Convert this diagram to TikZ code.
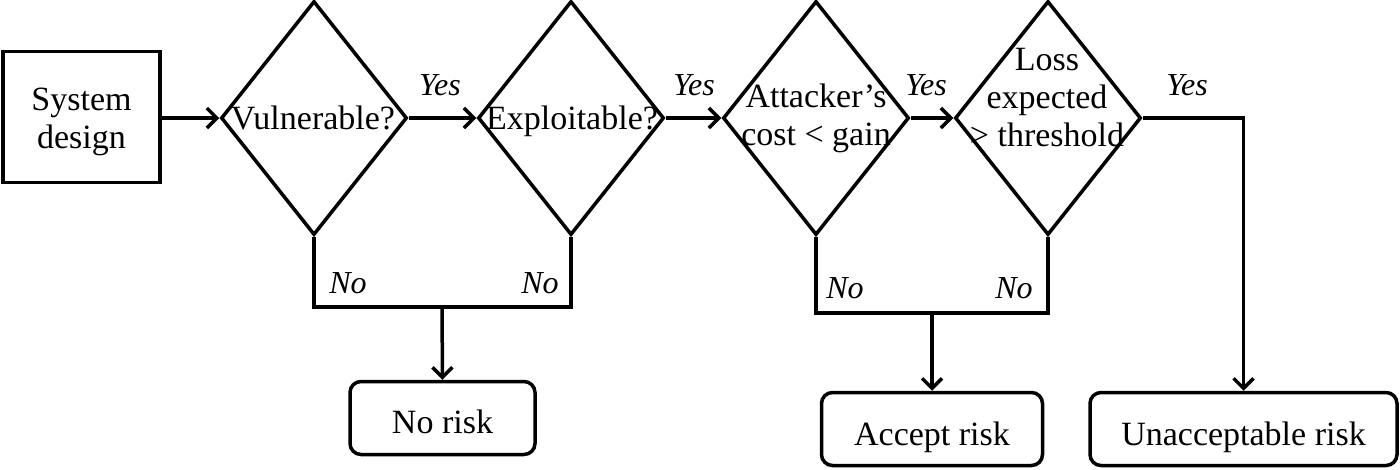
\documentclass[tikz,border=0pt]{standalone}
\usepackage{fontspec}
\setmainfont{Liberation Serif}
\usetikzlibrary{shapes.geometric,arrows.meta}
\begin{document}
\begin{tikzpicture}[x=1pt,y=-1pt,line width=3.5pt,
  txt/.style={font=\fontsize{34}{38}\selectfont,align=center,inner sep=0pt,anchor=base},
  lbl/.style={font=\fontsize{32}{36}\selectfont\itshape,inner sep=0pt,anchor=base},
  dia/.style={draw,diamond,minimum width=186pt,minimum height=234pt,inner sep=0pt},
  sqbox/.style={draw,rectangle,minimum width=157pt,minimum height=131pt,inner sep=0pt},
  rbox/.style={draw,rectangle,rounded corners=11pt,minimum height=73pt,inner sep=0pt},
  arr/.style={-{Straight Barb[length=10pt,width=20pt]}},
  line join=miter]
\useasboundingbox (0,0) rectangle (1400,469);
\node[sqbox] (sys) at (81.5,117) {};
\node[txt] (tsys) at (81.5,148) {System\\design};
\node[dia] (d1) at (314,118) {};
\node[txt] (td1) at (313,129) {Vulnerable?};
\node[dia] (d2) at (571,118) {};
\node[txt] (td2) at (572,129) {Exploitable?};
\node[dia] (d3) at (816,118) {};
\node[txt] (td3) at (816,145) {Attacker's\\cost < gain};
\node[dia] (d4) at (1048,118) {};
\node[txt] (td4) at (1047,146) {Loss\\expected\\> threshold};
\node[rbox,minimum width=185pt] (norisk) at (442.5,418) {};
\node[txt] (tnorisk) at (442.5,433) {No risk};
\node[rbox,minimum width=221pt] (accept) at (932,429) {};
\node[txt] (taccept) at (932,445) {Accept risk};
\node[rbox,minimum width=307pt] (unacc) at (1243.5,429) {};
\node[txt] (tunacc) at (1243.5,445) {Unacceptable risk};
\coordinate (j1) at (442,307);
\coordinate (j2) at (932,313);
\draw[arr] (sys.east |- d1.west) -- (d1.west);
\draw[arr] (d1.east) -- (d2.west);
\draw[arr] (d2.east) -- (d3.west);
\draw[arr] (d3.east) -- (d4.west);
\draw[arr] (d4.east) -| (unacc.north);
\draw (d1.south) |- (j1) -| (d2.south);
\draw[arr] (j1) -- (norisk.north);
\draw (d3.south) |- (j2) -| (d4.south);
\draw[arr] (j2) -- (accept.north);
\node[lbl] (y1) at (440,95) {Yes};
\node[lbl] (y2) at (694,95) {Yes};
\node[lbl] (y3) at (926,95) {Yes};
\node[lbl] (y4) at (1187,95) {Yes};
\node[lbl] (n1) at (348,293) {No};
\node[lbl] (n2) at (540,293) {No};
\node[lbl] (n3) at (845,298) {No};
\node[lbl] (n4) at (1014,298) {No};
\end{tikzpicture}
\end{document}
